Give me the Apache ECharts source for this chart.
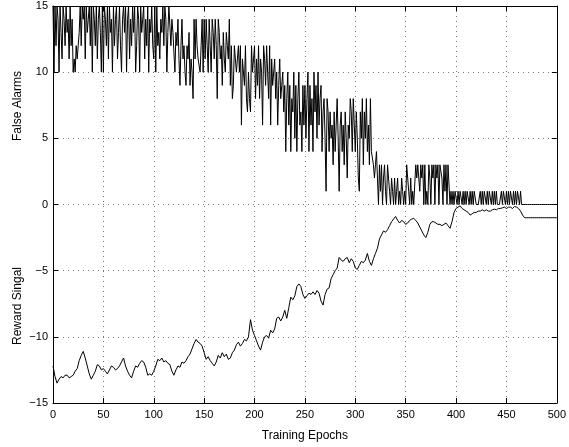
<!DOCTYPE html>
<html>
<head>
<meta charset="utf-8">
<script src="https://cdn.jsdelivr.net/npm/echarts@6/dist/echarts.min.js"></script>
<style>
  html, body { margin: 0; padding: 0; background: #fff; }
  #chart { width: 569px; height: 447px; }
</style>
</head>
<body>
<div id="chart"></div>
<script>
  // x ticks and y ticks
  var xTicks = [0, 50, 100, 150, 200, 250, 300, 350, 400, 450, 500]
  var yTicks = [-15, -10, -5, 0, 5, 10, 15]

  // false alarms, one value per epoch (0..500)
  var falseAlarms = [
    15,10,15,12,15,14,10,15,13,11,
    15,14,12,15,13,14,11,15,12,14,
    10,11,10,12,11,12,13,15,12,15,
    14,15,11,15,13,14,15,12,15,10,
    15,14,12,15,11,14,15,13,10,15,
    10,15,14,12,15,11,15,13,14,10,
    15,12,14,15,11,13,15,12,10,14,
    15,13,15,10,14,15,11,14,12,15,
    13,15,10,12,15,14,10,15,13,14,
    15,11,14,12,15,10,14,13,15,12,
    11,15,10,15,12,13,11,14,13,15,
    12,15,14,10,13,15,15,12,14,13,
    13,10,13,12,14,11,9,12,14,11,
    12,10,9,12,11,13,9,11,10,8,
    14,11,14,12,11,11,10,12,14,10,
    14,11,14,12,10,14,12,10,14,13,
    11,14,12,8,14,13,11,12,9,13,
    11,10,13,12,11,14,9,12,8,9,
    12,11,10,11,12,10,12,6,11,10,
    9,12,8,7,10,8,7,12,10,11,
    12,8,11,9,12,8,11,10,6,12,
    11,9,12,10,8,12,6,11,9,10,
    11,8,10,6,9,11,8,9,10,7,
    9,4,8,10,6,9,4,8,7,10,
    5,9,4,8,10,6,7,4,9,6,
    9,5,8,10,4,9,6,8,4,10,
    7,9,5,10,6,8,9,4,7,8,
    5,1,8,7,4,7,5,6,3,7,
    4,6,8,5,1,6,7,4,6,3,
    7,5,2,6,5,8,7,4,8,6,
    4,7,5,2,1,7,5,8,3,7,
    5,8,4,6,3,8,4,4,3,2,
    3,4,2,0,3,1,3,0,2,3,
    1,0,3,2,1,0,2,1,0,2,
    0,1,2,0,1,0,2,1,0,1,
    0,3,2,1,0,2,0,1,0,0,
    3,2,3,3,1,3,2,3,0,3,
    0,1,0,3,2,0,3,2,3,0,
    3,2,3,0,3,3,2,0,3,1,
    3,0,3,3,0,1,0,1,0,1,
    1,0,1,0,1,1,0,1,0,1,
    0,1,1,0,1,0,1,0,1,1,
    0,0,0,0,1,0,1,0,1,1,
    0,1,0,1,1,0,1,0,1,0,
    1,0,0,0,0,1,0,1,1,0,
    1,0,1,0,1,1,0,1,0,1,
    0,1,1,0,1,0,0,0,0,0,
    0,0,0,0,0,0,0,0,0,0,
    0,0,0,0,0,0,0,0,0,0,
    0,0,0,0,0,0,0,0,0,0,
    0
  ]

  // reward signal, one value every 2 epochs (0..500)
  var rewardSignal = [
    -12.2,-13.0,-13.5,-13.2,-13.0,-13.1,-12.9,-12.9,-13.1,-13.0,
    -12.9,-12.6,-12.4,-11.8,-11.4,-11.1,-11.6,-12.2,-12.8,-13.2,
    -12.9,-12.6,-12.1,-12.2,-12.5,-12.4,-12.6,-12.8,-12.5,-12.2,
    -12.3,-12.5,-12.4,-12.2,-11.9,-11.6,-12.2,-12.6,-12.9,-13.1,
    -12.6,-12.2,-12.3,-12.0,-11.8,-11.9,-12.3,-12.9,-12.8,-12.9,
    -12.6,-12.2,-11.7,-11.8,-11.6,-11.9,-11.8,-12.0,-12.1,-12.6,
    -12.9,-12.5,-12.2,-12.3,-11.9,-12.0,-11.8,-11.5,-11.3,-10.9,
    -10.5,-10.2,-10.4,-10.5,-10.7,-11.2,-11.7,-11.5,-11.8,-12.0,
    -12.2,-11.9,-11.4,-11.6,-11.2,-11.5,-11.3,-11.7,-11.6,-11.2,
    -11.0,-10.6,-10.4,-10.7,-10.5,-10.2,-10.3,-10.0,-8.7,-9.5,
    -9.9,-10.3,-10.7,-11.0,-10.4,-10.0,-9.9,-10.1,-9.5,-9.7,
    -9.4,-8.6,-8.5,-8.8,-8.5,-8.0,-8.6,-7.8,-7.0,-7.2,
    -6.9,-6.2,-6.0,-6.2,-6.8,-7.1,-6.9,-6.7,-6.8,-6.6,
    -6.8,-6.5,-6.7,-7.3,-7.6,-6.8,-6.4,-6.3,-5.6,-5.3,
    -5.0,-4.8,-4.0,-4.2,-4.3,-4.1,-4.0,-4.4,-4.1,-4.3,
    -4.8,-4.9,-4.6,-4.3,-4.4,-4.2,-3.7,-4.3,-4.6,-4.1,
    -3.7,-3.3,-2.6,-2.3,-2.0,-2.1,-1.9,-1.6,-1.3,-1.1,
    -0.9,-1.2,-1.4,-1.2,-1.3,-1.5,-1.4,-1.2,-1.1,-1.05,
    -1.2,-1.4,-1.7,-2.0,-2.3,-2.5,-2.1,-1.5,-1.3,-1.3,
    -1.4,-1.5,-1.5,-1.6,-1.5,-1.4,-1.6,-1.8,-1.3,-0.6,
    -0.3,-0.2,-0.1,-0.3,-0.4,-0.5,-0.6,-0.8,-0.7,-0.6,
    -0.6,-0.5,-0.5,-0.4,-0.5,-0.4,-0.5,-0.5,-0.4,-0.35,
    -0.4,-0.3,-0.3,-0.25,-0.2,-0.3,-0.2,-0.2,-0.3,-0.15,
    -0.2,-0.3,-0.5,-0.8,-1.0,-1.0,-1.0,-1.0,-1.0,-1.0,
    -1.0,-1.0,-1.0,-1.0,-1.0,-1.0,-1.0,-1.0,-1.0,-1.0,
    -1.0
  ]

  var chart = echarts.init(document.getElementById('chart'))
  var font = 'Liberation Sans, Arial, sans-serif'
  var minus = function (v) { return String(v).replace('-', '\u2212') }

  var alarmData = falseAlarms.map(function (v, i) { return [i, v] })
  var rewardData = rewardSignal.map(function (v, i) { return [i * 2, v] })

  var tickStyle = { show: true, inside: true, length: 5, lineStyle: { color: '#000', width: 1 } }

  var option = {
    animation: false,
    backgroundColor: '#fff',
    grid: { left: 53, right: 11, top: 6, bottom: 41 },
    xAxis: [{
      type: 'value', min: 0, max: 500, interval: 50,
      axisLine: { show: true, onZero: false, lineStyle: { color: '#000', width: 1 } },
      axisTick: tickStyle,
      axisLabel: { color: '#000', fontSize: 11, fontFamily: font, margin: 6, showMinLabel: true, showMaxLabel: true },
      splitLine: { show: true, lineStyle: { color: '#777', type: [1, 4], width: 1 } },
      name: 'Training Epochs', nameLocation: 'middle', nameGap: 27,
      nameTextStyle: { color: '#000', fontSize: 12, fontFamily: font }
    }, {
      type: 'value', min: 0, max: 500, interval: 50, position: 'top',
      axisLine: { show: true, onZero: false, lineStyle: { color: '#000', width: 1 } },
      axisTick: tickStyle, axisLabel: { show: false }, splitLine: { show: false }
    }],
    yAxis: [{
      type: 'value', min: -15, max: 15, interval: 5,
      axisLine: { show: true, onZero: false, lineStyle: { color: '#000', width: 1 } },
      axisTick: tickStyle,
      axisLabel: { color: '#000', fontSize: 11, fontFamily: font, margin: 5, formatter: minus, showMinLabel: true, showMaxLabel: true },
      splitLine: { show: true, lineStyle: { color: '#777', type: [1, 4], width: 1 } }
    }, {
      type: 'value', min: -15, max: 15, interval: 5, position: 'right',
      axisLine: { show: true, onZero: false, lineStyle: { color: '#000', width: 1 } },
      axisTick: tickStyle, axisLabel: { show: false }, splitLine: { show: false }
    }],
    graphic: [
      { type: 'text', x: 18, y: 106, rotation: Math.PI / 2,
        style: { text: 'False Alarms', fill: '#000', font: '12px ' + font, align: 'center', verticalAlign: 'middle' } },
      { type: 'text', x: 18, y: 306, rotation: Math.PI / 2,
        style: { text: 'Reward Singal', fill: '#000', font: '12px ' + font, align: 'center', verticalAlign: 'middle' } }
    ],
    series: [
      {
        name: 'False Alarms', type: 'line', data: alarmData,
        showSymbol: false, sampling: null,
        lineStyle: { color: '#000', width: 1 }, z: 3
      },
      {
        name: 'Reward Singal', type: 'line', data: rewardData,
        showSymbol: false,
        lineStyle: { color: '#000', width: 1 }, z: 3
      }
    ]
  }

  chart.setOption(option)
</script>
</body>
</html>
